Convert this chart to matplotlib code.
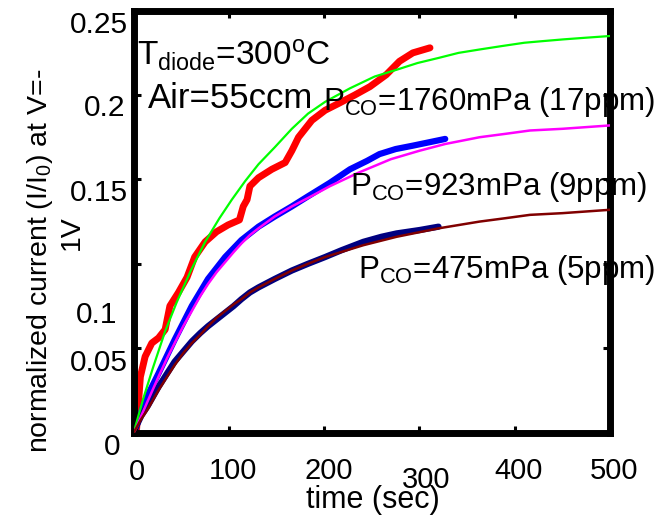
import numpy as np
import matplotlib
matplotlib.use('Agg')
import matplotlib.pyplot as plt

plt.rcParams['font.family'] = ['Liberation Sans', 'DejaVu Sans']
plt.rcParams['mathtext.fontset'] = 'custom'
plt.rcParams['mathtext.rm'] = 'Liberation Sans'
plt.rcParams['mathtext.it'] = 'Liberation Sans:italic'

# ------------------------------------------------------------------
# Data
# ------------------------------------------------------------------

# P_CO = 1760 mPa (17 ppm): measured (red) and fit (green)
t_1760 = [0, 3, 7, 12, 19, 26, 33, 38, 47, 56, 64, 75, 87, 99, 111, 115, 119, 122,
          131, 145, 159, 166, 173, 187, 201, 215, 232, 248, 265, 279, 293, 311]
i_1760 = [0.0, 0.002, 0.033, 0.045, 0.053, 0.056, 0.061, 0.075, 0.083, 0.092, 0.104,
          0.113, 0.119, 0.123, 0.126, 0.134, 0.138, 0.146, 0.151, 0.156, 0.160, 0.167,
          0.175, 0.185, 0.191, 0.195, 0.200, 0.205, 0.212, 0.220, 0.225, 0.228]
t_1760_fit = [0, 4, 10, 20, 33, 45, 60, 75, 90, 103, 117, 131, 148, 166, 183, 201,
              227, 253, 276, 298, 320, 341, 363, 386, 410, 430, 451, 475, 500]
i_1760_fit = [0.0, 0.008, 0.020, 0.038, 0.060, 0.077, 0.096, 0.113, 0.127, 0.138,
              0.149, 0.159, 0.169, 0.180, 0.189, 0.196, 0.204, 0.211, 0.215, 0.219,
              0.222, 0.225, 0.227, 0.229, 0.231, 0.232, 0.233, 0.234, 0.235]

# P_CO = 923 mPa (9 ppm): measured (blue) and fit (magenta)
t_923 = [0, 3, 12, 26, 43, 61, 78, 96, 113, 131, 148, 166, 183, 206, 227, 245, 258,
         275, 293, 310, 327]
i_923 = [0.0, 0.004, 0.019, 0.035, 0.055, 0.075, 0.091, 0.104, 0.114, 0.122, 0.128,
         0.134, 0.140, 0.148, 0.156, 0.161, 0.165, 0.168, 0.170, 0.172, 0.174]
t_923_fit = [0, 3, 8, 15, 26, 35, 43, 52, 61, 70, 78, 87, 96, 105, 113, 122, 131, 148,
             166, 183, 206, 236, 270, 300, 327, 363, 390, 416, 450, 475, 500]
i_923_fit = [0.0, 0.003, 0.010, 0.019, 0.033, 0.044, 0.053, 0.063, 0.072, 0.081, 0.088,
             0.095, 0.101, 0.107, 0.112, 0.117, 0.121, 0.128, 0.134, 0.139, 0.146,
             0.154, 0.162, 0.167, 0.171, 0.175, 0.177, 0.179, 0.180, 0.181, 0.182]

# P_CO = 475 mPa (5 ppm): measured (navy) and fit (maroon)
t_475 = [0, 3, 8, 15, 26, 35, 43, 52, 61, 70, 78, 87, 96, 105, 113, 122, 131, 148,
         166, 183, 201, 218, 241, 260, 276, 300, 320]
i_475 = [0.0, 0.004, 0.010, 0.016, 0.027, 0.035, 0.042, 0.048, 0.054, 0.059, 0.063,
         0.067, 0.071, 0.075, 0.079, 0.083, 0.086, 0.091, 0.096, 0.100, 0.104, 0.108,
         0.113, 0.116, 0.118, 0.120, 0.122]
t_475_fit = [0, 3, 8, 15, 26, 35, 43, 52, 61, 70, 78, 87, 96, 105, 113, 122, 131, 148,
             166, 183, 201, 218, 241, 276, 320, 363, 390, 416, 450, 475, 500]
i_475_fit = [0.0, 0.003, 0.008, 0.014, 0.025, 0.033, 0.040, 0.047, 0.053, 0.058, 0.063,
             0.068, 0.072, 0.076, 0.079, 0.083, 0.086, 0.091, 0.096, 0.100, 0.104,
             0.107, 0.111, 0.116, 0.121, 0.125, 0.127, 0.129, 0.130, 0.131, 0.132]

x_ticks = [0, 100, 200, 300, 400, 500]
y_ticks = [0, 0.05, 0.1, 0.15, 0.2, 0.25]
x_tick_labels = ['0', '100', '200', '300', '400', '500']
y_tick_labels = ['0', '0.05', '0.1', '0.15', '0.2', '0.25']

# ------------------------------------------------------------------
# Figure
# ------------------------------------------------------------------
W, H = 672, 517
fig = plt.figure(figsize=(W / 100, H / 100), dpi=100)
ax = fig.add_axes([133.7 / W, 1 - 432.5 / H, (610 - 133.7) / W, (432.5 - 10.7) / H])


def px(x, y):
    # pixel position in the picture -> figure fraction
    return x / W, 1 - y / H


ax.plot(t_1760, i_1760, color='#ff0000', lw=5, solid_capstyle='round', zorder=2)
ax.plot(t_923, i_923, color='#0000ff', lw=4.5, solid_capstyle='round', zorder=2)
ax.plot(t_475, i_475, color='#000080', lw=4.5, solid_capstyle='round', zorder=2)
ax.plot(t_1760_fit, i_1760_fit, color='#00ff00', lw=1.6, zorder=3)
ax.plot(t_923_fit, i_923_fit, color='#ff00ff', lw=1.8, zorder=3)
ax.plot(t_475_fit, i_475_fit, color='#800000', lw=1.8, zorder=3)

ax.set_xlim(0, 500)
ax.set_ylim(0, 0.25)
ax.set_xticks(x_ticks)
ax.set_yticks(y_ticks)
ax.tick_params(direction='in', length=5, width=2.2, top=True, right=True,
               labelbottom=False, labelleft=False)
for s in ax.spines.values():
    s.set_linewidth(5)
    s.set_capstyle('projecting')

# tick labels sit a bit off in the original, so place them by hand
x_lab_pos = [(137, 472), (233, 471), (329, 471), (426, 480), (519, 471), (614, 471)]
for lab, (x, y) in zip(x_tick_labels, x_lab_pos):
    fig.text(*px(x, y), lab, fontsize=21, ha='center', va='center')

y_lab_pos = [(120, 447), (128, 363), (117, 315), (128, 193), (125, 108), (128, 25)]
for lab, (x, y) in zip(y_tick_labels, y_lab_pos):
    fig.text(*px(x, y), lab, fontsize=21.5, ha='right', va='center')

# axis labels
fig.text(*px(373, 500), 'time (sec)', fontsize=22, ha='center', va='center')
fig.text(*px(40, 261), 'normalized current (I/I$_0$) at V=-', fontsize=20.5,
         rotation=90, ha='center', va='center')
fig.text(*px(72, 233), '1V', fontsize=20.5, rotation=90, ha='center', va='center')

# annotations
fig.text(*px(137, 65), 'T$_{\\mathrm{diode}}$=300$^{\\mathrm{o}}$C', fontsize=24,
         va='baseline')
fig.text(*px(148, 108), 'Air=55ccm', fontsize=25, va='baseline')
fig.text(*px(323, 110), 'P$_{\\mathrm{CO}}$=1760mPa (17ppm)', fontsize=22.5, va='baseline')
fig.text(*px(350, 195), 'P$_{\\mathrm{CO}}$=923mPa (9ppm)', fontsize=22.5, va='baseline')
fig.text(*px(358, 278), 'P$_{\\mathrm{CO}}$=475mPa (5ppm)', fontsize=22.5, va='baseline')

fig.savefig('out.png', dpi=100)
